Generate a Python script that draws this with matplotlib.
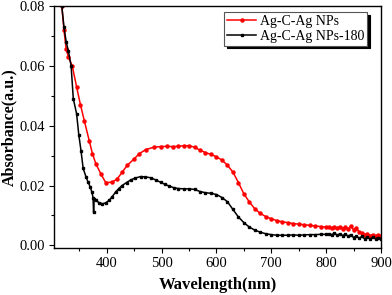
import matplotlib
matplotlib.use("Agg")
import matplotlib.pyplot as plt
from matplotlib.ticker import MultipleLocator

red_wl = [318, 322, 326, 330, 337, 345, 352, 359, 368, 374, 380, 389, 398, 410, 419, 428, 437,
          450, 459, 471, 486, 498, 510, 520, 530, 540, 550, 560, 570, 580, 590, 600, 610, 620,
          630, 640, 650, 660, 670, 680, 690, 700, 710, 720, 730, 740, 750, 760, 770, 780, 790,
          800, 805, 810, 815, 820, 825, 830, 835, 840, 845, 850, 855, 860, 865, 870, 875, 880,
          885, 890, 895, 900]
red_abs = [0.0800, 0.0720, 0.0655, 0.0630, 0.0600, 0.0530, 0.0470, 0.0417, 0.0350, 0.0306,
           0.0273, 0.0240, 0.0210, 0.0211, 0.0222, 0.0244, 0.0267, 0.0289, 0.0306, 0.0320,
           0.0328, 0.0330, 0.0331, 0.0330, 0.0331, 0.0333, 0.0333, 0.0328, 0.0318, 0.0310,
           0.0304, 0.0296, 0.0285, 0.0268, 0.0245, 0.0210, 0.0172, 0.0145, 0.0122, 0.0107,
           0.0096, 0.0089, 0.0083, 0.0079, 0.0076, 0.0073, 0.0071, 0.0069, 0.0067, 0.0065,
           0.0063, 0.0061, 0.0060, 0.0057, 0.0062, 0.0058, 0.0063, 0.0056, 0.0060, 0.0055,
           0.0064, 0.0052, 0.0058, 0.0045, 0.0040, 0.0036, 0.0039, 0.0032, 0.0036, 0.0030,
           0.0035, 0.0031]

blk_wl = [318, 322, 326, 330, 335, 339, 345, 349, 353, 357, 362, 366, 370, 373, 375, 376, 377,
          380, 386, 392, 398, 404, 410, 416, 422, 428, 436, 444, 452, 462, 470, 480, 490, 498,
          506, 514, 522, 530, 540, 550, 560, 570, 580, 590, 600, 610, 620, 630, 640, 650, 660,
          670, 680, 690, 700, 710, 720, 730, 740, 750, 760, 770, 780, 790, 800, 805, 810, 815,
          820, 825, 830, 835, 840, 845, 850, 855, 860, 865, 870, 875, 880, 885, 890, 895, 900]
blk_abs = [0.0800, 0.0730, 0.0680, 0.0650, 0.0600, 0.0490, 0.0440, 0.0370, 0.0317, 0.0257,
           0.0230, 0.0211, 0.0195, 0.0177, 0.0160, 0.0110, 0.0155, 0.0150, 0.0143, 0.0139,
           0.0142, 0.0150, 0.0163, 0.0178, 0.0190, 0.0200, 0.0210, 0.0219, 0.0225, 0.0230,
           0.0229, 0.0226, 0.0218, 0.0211, 0.0204, 0.0198, 0.0193, 0.0190, 0.0189, 0.0189,
           0.0187, 0.0180, 0.0176, 0.0174, 0.0170, 0.0160, 0.0146, 0.0120, 0.0095, 0.0076,
           0.0061, 0.0051, 0.0044, 0.0039, 0.0036, 0.0034, 0.0034, 0.0034, 0.0035, 0.0034,
           0.0035, 0.0036, 0.0036, 0.0037, 0.0037, 0.0039, 0.0036, 0.0040, 0.0035, 0.0038,
           0.0033, 0.0037, 0.0031, 0.0036, 0.0026, 0.0032, 0.0024, 0.0030, 0.0022, 0.0028,
           0.0021, 0.0027, 0.0022, 0.0026, 0.0023]

labels = ["Ag-C-Ag NPs", "Ag-C-Ag NPs-180"]
x_ticks = [400, 500, 600, 700, 800, 900]
y_ticks = [0.00, 0.02, 0.04, 0.06, 0.08]
y_tick_labels = ["0.00", "0.02", "0.04", "0.06", "0.08"]

serif = "Liberation Serif"
fig = plt.figure(figsize=(3.92, 2.95), dpi=100)
ax = fig.add_axes([0.138, 0.160, 0.834, 0.820])

ax.plot(red_wl, red_abs, color="#ff0000", lw=1.1, marker="o", ms=2.2, label=labels[0])
ax.plot(blk_wl, blk_abs, color="black", lw=1.1, marker="s", ms=2.0, label=labels[1])

ax.set_xlim(304, 900)
ax.set_ylim(-0.0008, 0.08)
ax.set_xticks(x_ticks)
ax.set_yticks(y_ticks)
ax.xaxis.set_minor_locator(MultipleLocator(50))
ax.yaxis.set_minor_locator(MultipleLocator(0.01))
ax.tick_params(which="both", direction="out", top=False, right=False, width=0.8)
ax.tick_params(which="major", length=3.5, pad=3)
ax.tick_params(which="minor", length=2)
ax.set_yticklabels(y_tick_labels)
for lab in ax.get_xticklabels() + ax.get_yticklabels():
    lab.set_fontfamily(serif)
    lab.set_fontsize(10.5)
for s in ax.spines.values():
    s.set_linewidth(1.0)

ax.set_xlabel("Wavelength(nm)", fontfamily=serif, fontweight="bold", fontsize=12, labelpad=5)
ax.set_ylabel("Absorbance(a.u.)", fontfamily=serif, fontweight="bold", fontsize=11.5, labelpad=2)

leg = ax.legend(loc="upper right", bbox_to_anchor=(0.97, 0.99), prop={"family": serif, "size": 10},
                frameon=True, fancybox=False, shadow={"color": "black", "alpha": 1.0},
                borderpad=0.2, handlelength=2.1, labelspacing=0.12, handletextpad=0.25,
                borderaxespad=0.3)
leg.get_frame().set_edgecolor("#555555")
leg.get_frame().set_linewidth(0.8)

fig.savefig("out.png", dpi=100)
